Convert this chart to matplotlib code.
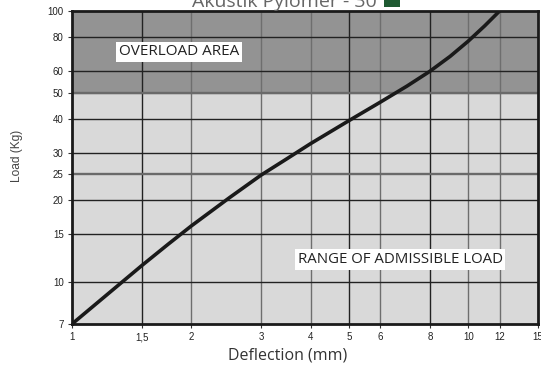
import matplotlib
matplotlib.use("Agg")
import matplotlib.pyplot as plt
from matplotlib.patches import Rectangle

deflection = [1.0, 1.25, 1.5, 1.75, 2.0, 2.5, 3.0, 3.5, 4.0, 5.0, 6.0, 7.0, 8.0, 9.0, 10.0, 11.0, 12.0]
load = [7.0, 9.2, 11.5, 13.8, 16.1, 20.5, 24.8, 28.6, 32.4, 39.4, 46.1, 52.8, 59.9, 68.0, 77.4, 88.1, 100.0]

x_ticks = [1, 1.5, 2, 3, 4, 5, 6, 8, 10, 12, 15]
x_labels = ["1", "1,5", "2", "3", "4", "5", "6", "8", "10", "12", "15"]
y_ticks = [7, 10, 15, 20, 25, 30, 40, 50, 60, 80, 100]
y_labels = ["7", "10", "15", "20", "25", "30", "40", "50", "60", "80", "100"]
x_grid_dark = [1.5, 5, 8]
y_grid_dark = [10, 15, 20, 30, 40, 60, 80]
overload_limit = 50

fig = plt.figure(figsize=(5.41, 3.69), dpi=100)
ax = fig.add_axes([72/541, 1-324/369, 466/541, 313/369])
ax.set_xscale("log")
ax.set_yscale("log")
ax.set_xlim(1, 15)
ax.set_ylim(7, 100)

ax.axhspan(7, overload_limit, color="#d9d9d9", zorder=0)
ax.axhspan(overload_limit, 100, color="#939393", zorder=0)

for xv in x_ticks[1:-1]:
    c = "#222222" if xv in x_grid_dark else "#6e6e6e"
    ax.axvline(xv, color=c, lw=1.0, zorder=1)
for yv in y_ticks[1:-1]:
    c = "#222222" if yv in y_grid_dark else "#6a6a6a"
    lw = 1.7 if yv in (25, 50) else 1.0
    ax.axhline(yv, color=c, lw=lw, zorder=1)

ax.plot(deflection, load, color="#1a1a1a", lw=2.6, zorder=3,
        solid_capstyle="round", solid_joinstyle="round")

ax.set_xticks(x_ticks)
ax.set_xticklabels(x_labels)
ax.set_yticks(y_ticks)
ax.set_yticklabels(y_labels)
ax.minorticks_off()
ax.tick_params(axis="both", labelsize=7, length=3, width=0.8, color="#333333",
               labelcolor="#222222", pad=3)
for lab in ax.get_xticklabels() + ax.get_yticklabels():
    lab.set_fontfamily("Liberation Sans")

for s in ax.spines.values():
    s.set_linewidth(2.0)
    s.set_color("#1a1a1a")
    s.set_zorder(4)

ax.text(1.86, 70.6, "OVERLOAD AREA", fontsize=11, family="Open Sans", color="#222222",
        ha="center", va="center", zorder=5,
        bbox=dict(facecolor="white", edgecolor="none", pad=2.0))
ax.text(6.73, 12.1, "RANGE OF ADMISSIBLE LOAD", fontsize=10.8, family="Open Sans", color="#222222",
        ha="center", va="center", zorder=5,
        bbox=dict(facecolor="white", edgecolor="none", pad=2.0))

fig.text(288/541, 1-356/369, "Deflection (mm)", fontsize=11.5, family="Open Sans",
         color="#333333", ha="center", va="center")
fig.text(17/541, 1-156/369, "Load (Kg)", fontsize=8.6, family="Liberation Sans",
         color="#444444", ha="center", va="center", rotation=90)
fig.text(284/541, 1-7/369, "Akustik Pylomer - 30", fontsize=14, family="Open Sans",
         color="#666666", ha="center", va="baseline")
fig.patches.append(Rectangle((384/541, 1-7/369), 16/541, 14/369, transform=fig.transFigure,
                             facecolor="#1f5a32", edgecolor="none"))

fig.savefig("out.png", dpi=100)
